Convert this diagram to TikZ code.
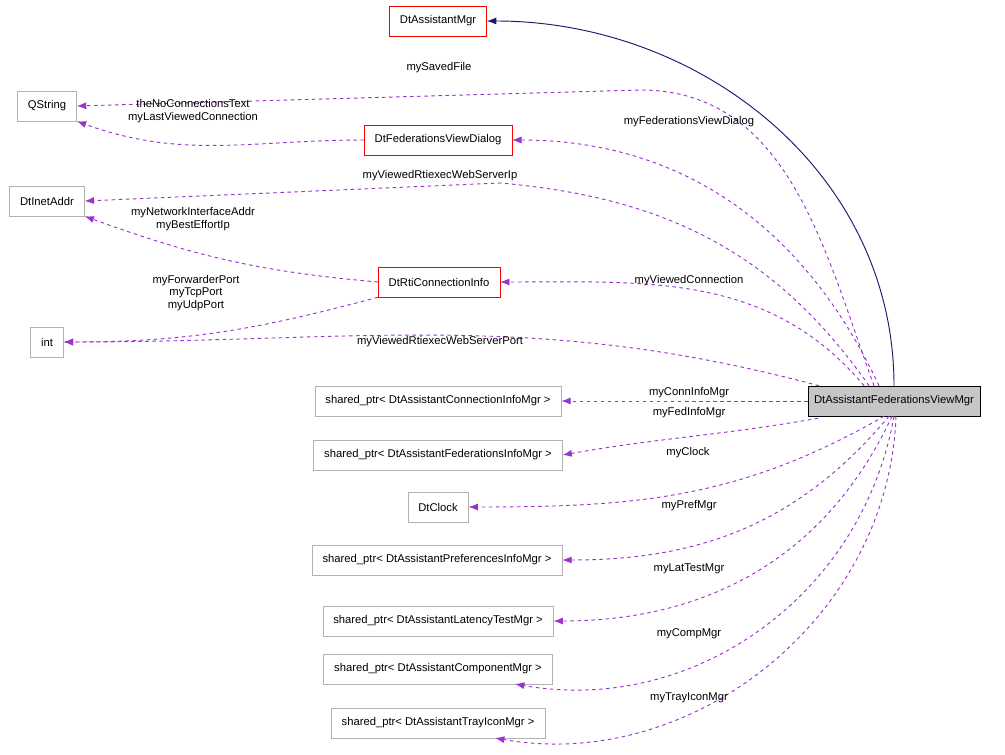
\documentclass[tikz,border=0pt]{standalone}
\usepackage{fontspec}
\setmainfont{Liberation Sans}
\usetikzlibrary{positioning,arrows.meta}
\definecolor{edgepurple}{HTML}{9A32CD}
\definecolor{navyblue}{HTML}{191970}
\begin{document}
\begin{tikzpicture}[x=0.03cm,y=-0.03cm,font=\fontsize{9.6}{11}\selectfont,
    box/.style={draw=gray!60,minimum height=0.9cm,inner xsep=9pt},
    redbox/.style={draw=red,minimum height=0.9cm,inner xsep=9pt},
    member/.style={-{Latex[length=8pt,width=6pt]},dashed,draw=edgepurple,line width=0.8pt},
    lbl/.style={inner sep=0pt,align=center}]
    \useasboundingbox (0,0) rectangle (1005,755);

    \node (main) [draw=black,fill=gray!45,minimum height=0.9cm,inner xsep=5pt] at (894,401) {DtAssistantFederationsViewMgr};
    \node (mgr) [redbox] at (438,21) {DtAssistantMgr};
    \node (qstring) [box] at (47,106) {QString};
    \node (fvdialog) [redbox] at (438,140) {DtFederationsViewDialog};
    \node (inetaddr) [box] at (47,201) {DtInetAddr};
    \node (rticonn) [redbox] at (439,282) {DtRtiConnectionInfo};
    \node (int) [box] at (47,342) {int};
    \node (conninfo) [box] at (438,401) {shared\_ptr< DtAssistantConnectionInfoMgr >};
    \node (fedinfo) [box] at (438,455) {shared\_ptr< DtAssistantFederationsInfoMgr >};
    \node (clock) [box] at (438,507) {DtClock};
    \node (prefmgr) [box] at (437,560) {shared\_ptr< DtAssistantPreferencesInfoMgr >};
    \node (lattest) [box] at (438,621) {shared\_ptr< DtAssistantLatencyTestMgr >};
    \node (compmgr) [box] at (438,669) {shared\_ptr< DtAssistantComponentMgr >};
    \node (trayicon) [box] at (438,723) {shared\_ptr< DtAssistantTrayIconMgr >};
    \coordinate (compin) at (515,684);
    \coordinate (trayin) at (495,738);

    % inheritance
    \draw [-{Latex[length=8pt,width=6pt]},navyblue,line width=0.8pt] (main.north) to[out=90,in=0] (mgr.east);

    % members
    \draw [member] (main.north) ++(-20,0) to[out=110,in=0] (640,90) -- (qstring.east);
    \draw [member] (fvdialog.west) to[out=180,in=-20] (qstring.south east);
    \draw [member] (main.north) ++(-15,0) to[out=115,in=0] (fvdialog.east);
    \draw [member] (main.north) ++(-25,0) to[out=125,in=-5] (500,183) -- (inetaddr.east);
    \draw [member] (rticonn.west) to[out=175,in=-20] (inetaddr.south east);
    \draw [member] (rticonn.south west) to[out=-165,in=0] (int.east);
    \draw [member] (main.north) ++(-30,0) to[out=130,in=0] (rticonn.east);
    \draw [member] (main.north) ++(-75,0) to[out=165,in=0] (int.east);
    \draw [member] (main.west) -- (conninfo.east);
    \draw [member] (main.south west) ++(10,2) to[out=-170,in=10] (fedinfo.east);
    \draw [member] (main.south) ++(-10,0) to[out=-150,in=0] (clock.east);
    \draw [member] (main.south) ++(-5,0) to[out=-130,in=0] (prefmgr.east);
    \draw [member] (main.south) ++(-2,0) to[out=-115,in=0] (lattest.east);
    \draw [member] (main.south) to[out=-100,in=-10] (compin);
    \draw [member] (main.south) ++(2,0) to[out=-92,in=-10] (trayin);

    % labels
    \node (l1) [lbl] at (439,68) {mySavedFile};
    \node (l2) [lbl] at (193,111) {theNoConnectionsText\\myLastViewedConnection};
    \node (l3) [lbl] at (689,122) {myFederationsViewDialog};
    \node (l4) [lbl] at (440,176) {myViewedRtiexecWebServerIp};
    \node (l5) [lbl] at (193,219) {myNetworkInterfaceAddr\\myBestEffortIp};
    \node (l6) [lbl] at (196,293) {myForwarderPort\\myTcpPort\\myUdpPort};
    \node (l7) [lbl] at (689,281) {myViewedConnection};
    \node (l8) [lbl] at (440,342) {myViewedRtiexecWebServerPort};
    \node (l9) [lbl] at (689,393) {myConnInfoMgr};
    \node (l10) [lbl] at (689,413) {myFedInfoMgr};
    \node (l11) [lbl] at (688,453) {myClock};
    \node (l12) [lbl] at (689,506) {myPrefMgr};
    \node (l13) [lbl] at (689,569) {myLatTestMgr};
    \node (l14) [lbl] at (689,634) {myCompMgr};
    \node (l15) [lbl] at (689,698) {myTrayIconMgr};
\end{tikzpicture}
\end{document}
